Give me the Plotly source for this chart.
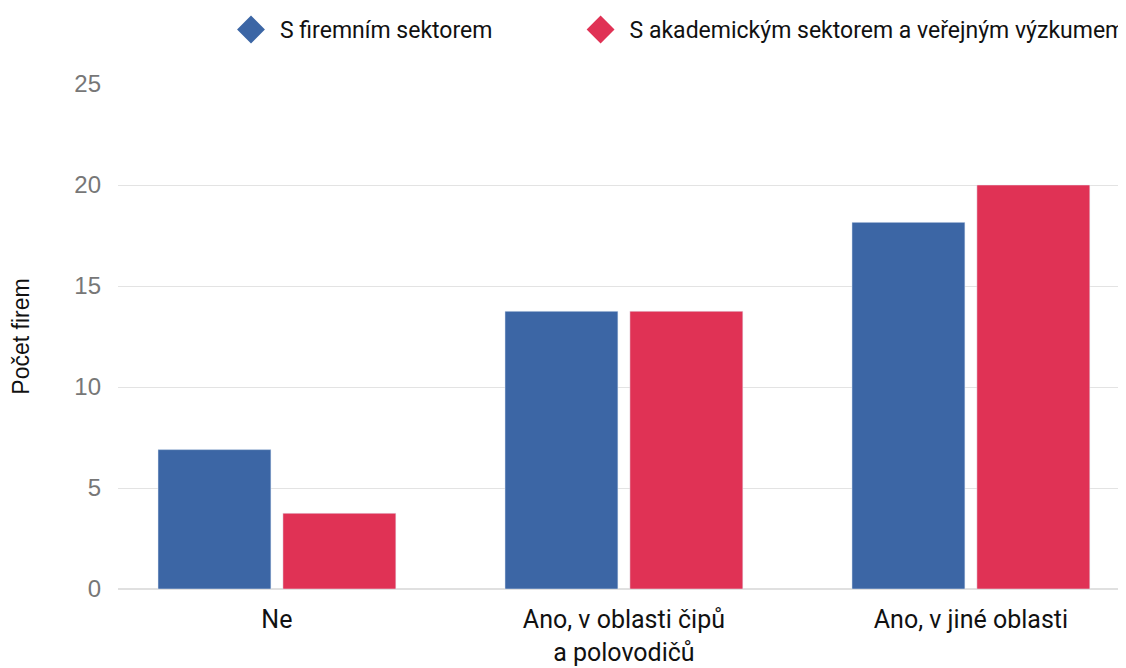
import plotly.graph_objects as go

categories = ["Ne", "Ano, v oblasti čipů<br>a polovodičů", "Ano, v jiné oblasti"]
series_names = ["S firemním sektorem", "S akademickým sektorem a veřejným výzkumem"]
firemni = [6.9, 13.75, 18.15]
akademicky = [3.75, 13.75, 20.0]
colors = ["#3c66a5", "#e03255"]
y_ticks = [0, 5, 10, 15, 20, 25]

fig = go.Figure()
for name, vals, col in zip(series_names, [firemni, akademicky], colors):
    fig.add_trace(go.Bar(x=categories, y=vals, name=name, marker_color=col,
                         showlegend=False, hoverinfo="y"))
# legend entries with diamond symbols
legend_labels = [series_names[0] + "\u00a0" * 13, series_names[1]]
for name, col in zip(legend_labels, colors):
    fig.add_trace(go.Scatter(x=[None], y=[None], mode="markers", name=name,
                             marker=dict(symbol="diamond", size=22, color=col,
                                         line=dict(width=5, color=col))))

# the page body has an 8px margin, so the figure is 8px smaller and shifted
W, H = 1118, 660
fig.update_layout(
    width=W, height=H,
    paper_bgcolor="white", plot_bgcolor="white",
    margin=dict(l=110, r=0, t=76, b=79),
    barmode="group", bargap=0.28, bargroupgap=0.096,
    font=dict(family="Roboto, sans-serif", size=22, color="#111"),
    legend=dict(orientation="h", x=214 / W, xref="container", xanchor="left",
                y=1.0, yref="container", yanchor="top",
                font=dict(size=23, color="#111"),
                itemwidth=48, itemsizing="trace", traceorder="normal"),
    xaxis=dict(range=[-0.458, 2.447], showgrid=False, zeroline=False, automargin=False,
               tickfont=dict(size=25, color="#111"), ticks="", showline=False,
               ticklabelstandoff=13),
    yaxis=dict(range=[0, 25], tickvals=y_ticks, gridcolor="#e3e3e3", gridwidth=1,
               zeroline=True, zerolinecolor="#e0e0e0", zerolinewidth=2, automargin=False,
               tickfont=dict(family="Liberation Sans, Arial, sans-serif", size=24, color="#777"),
               ticklabelstandoff=16,
               title=dict(text="Počet firem", standoff=40,
                          font=dict(family="Liberation Sans, Arial, sans-serif", size=23, color="#111"))),
)
fig.write_html("out.html")
